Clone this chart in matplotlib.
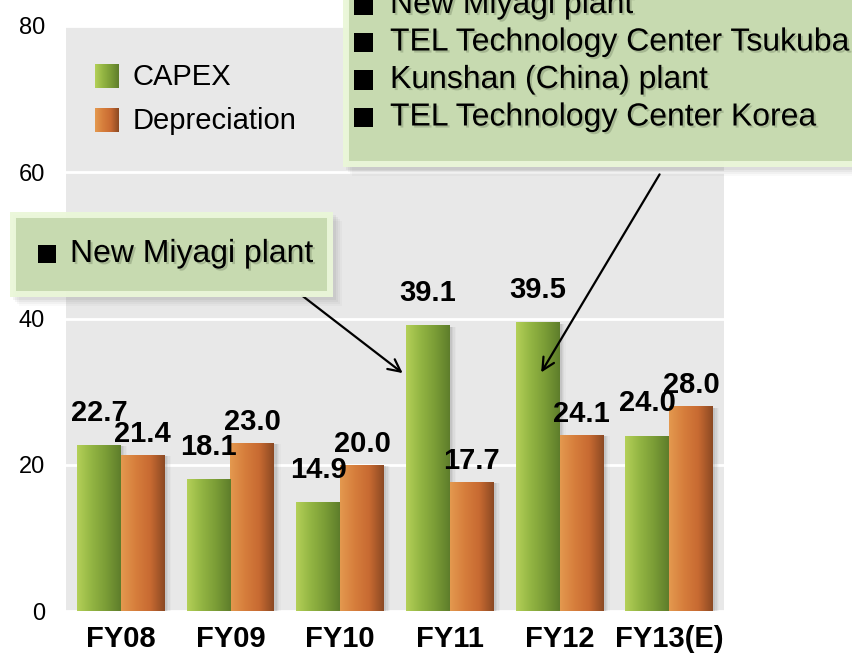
import numpy as np
import matplotlib
matplotlib.use("Agg")
import matplotlib.pyplot as plt
import matplotlib.patheffects as pe
from matplotlib.colors import LinearSegmentedColormap
from matplotlib.patches import Rectangle

plt.rcParams['font.family'] = ['Liberation Sans', 'DejaVu Sans']

# Data (billion yen)
years = ["FY08", "FY09", "FY10", "FY11", "FY12", "FY13(E)"]
capex = [22.7, 18.1, 14.9, 39.1, 39.5, 24.0]
depreciation = [21.4, 23.0, 20.0, 17.7, 24.1, 28.0]
series_names = ["CAPEX", "Depreciation"]
callout_small = ["New Miyagi plant"]
callout_large = ["New Miyagi plant", "TEL Technology Center Tsukuba",
                 "Kunshan (China) plant", "TEL Technology Center Korea"]

green_cmap = LinearSegmentedColormap.from_list(
    "g", ["#b4d058", "#93b543", "#7a9c36", "#5e7d2b"])
orange_cmap = LinearSegmentedColormap.from_list(
    "o", ["#e4994f", "#d67e3c", "#c86a32", "#8b4923"])

W, H = 852, 653
fig = plt.figure(figsize=(W / 100, H / 100), dpi=100)
ax = fig.add_axes([66 / W, 1 - 611 / H, (724 - 66) / W, (611 - 26) / H])
ax.set_facecolor("#e8e8e8")
ax.set_xlim(-0.5, len(years) - 0.5)
ax.set_ylim(0, 80)
ax.set_yticks([0, 20, 40, 60, 80])
ax.tick_params(axis="y", length=0, labelsize=17, pad=15)
ax.tick_params(axis="x", length=0, labelsize=21, pad=10)
ax.set_xticks(range(len(years)))
ax.set_xticklabels(years, fontweight="bold")
for s in ax.spines.values():
    s.set_visible(False)
ax.yaxis.grid(True, color="white", linewidth=2)
ax.set_axisbelow(True)

x = np.arange(len(years))
bw = 0.4
grad = np.linspace(0, 1, 256).reshape(1, -1)


def gradient_bars(bars, cmap):
    for b in bars:
        x0, y0 = b.get_x(), b.get_y()
        w, h = b.get_width(), b.get_height()
        # soft drop shadow on the right
        for i, a in enumerate([0.10, 0.07, 0.05, 0.03]):
            ax.add_patch(Rectangle((x0 + 0.02 + i * 0.012, y0), w, h - 0.2,
                                   facecolor="#555555", alpha=a,
                                   edgecolor="none", zorder=2))
        im = ax.imshow(grad, cmap=cmap, aspect="auto",
                       extent=(x0, x0 + w, y0, y0 + h), zorder=3)
        im.set_clip_path(b)
        b.set_facecolor("none")


b1 = ax.bar(x - bw / 2, capex, bw, color="none", zorder=3)
b2 = ax.bar(x + bw / 2, depreciation, bw, color="none", zorder=3)
gradient_bars(b2, orange_cmap)
gradient_bars(b1, green_cmap)
ax.set_xlim(-0.5, len(years) - 0.5)
ax.set_ylim(0, 80)

for xi, v in zip(x, capex):
    ax.annotate(f"{v:.1f}", (xi - bw / 2, v), xytext=(0, 13),
                textcoords="offset points", ha="center", va="bottom",
                fontsize=21, fontweight="bold", zorder=6)
for xi, v in zip(x, depreciation):
    ax.annotate(f"{v:.1f}", (xi + bw / 2, v), xytext=(0, 5),
                textcoords="offset points", ha="center", va="bottom",
                fontsize=21, fontweight="bold", zorder=6)


def fx(px):
    return px / W


def fy(py):
    return 1 - py / H


# Legend with gradient swatches
for i, (name, cmap) in enumerate(zip(series_names, [green_cmap, orange_cmap])):
    top = 64 + i * 44
    sax = fig.add_axes([fx(95), fy(top + 24), fx(24), 24 / H])
    sax.imshow(grad, cmap=cmap, aspect="auto")
    sax.axis("off")
    fig.text(fx(133), fy(top + 13), name, fontsize=21, va="center", ha="left")

text_shadow = [pe.SimplePatchShadow(offset=(1.5, -1.5), shadow_rgbFace="#6b7a5c",
                                    alpha=0.35), pe.Normal()]


def callout(x0, y0, x1, y1, lines, line_h, first_y, bullet_x, text_x, sq):
    # shadow
    for i, a in enumerate([0.06, 0.05, 0.04, 0.03]):
        fig.patches.append(Rectangle((fx(x0 + 3 + i * 2), fy(y1 + 3 + i * 2)),
                                     fx(x1 - x0), (y1 - y0) / H,
                                     transform=fig.transFigure,
                                     facecolor="#404040", alpha=a,
                                     edgecolor="none", zorder=7))
    fig.patches.append(Rectangle((fx(x0), fy(y1)), fx(x1 - x0), (y1 - y0) / H,
                                 transform=fig.transFigure,
                                 facecolor="#eaf7d8", alpha=0.95,
                                 edgecolor="none", zorder=8))
    fig.patches.append(Rectangle((fx(x0 + 6), fy(y1 - 6)), fx(x1 - x0 - 12),
                                 (y1 - y0 - 12) / H,
                                 transform=fig.transFigure,
                                 facecolor="#c6d9ae", alpha=0.95,
                                 edgecolor="none", zorder=9))
    for k, t in enumerate(lines):
        yy = first_y + k * line_h
        fig.patches.append(Rectangle((fx(bullet_x), fy(yy + sq / 2)),
                                     fx(sq), sq / H,
                                     transform=fig.transFigure,
                                     facecolor="black", edgecolor="none",
                                     zorder=10))
        fig.text(fx(text_x), fy(yy), t, fontsize=23,
                 va="center", ha="left", zorder=10, path_effects=text_shadow)


callout(10, 212, 333, 297, callout_small, 0, 254, 38, 70, 18)
callout(343, -40, 866, 167, callout_large, 37.5, 5, 354, 390, 19)

# Arrows pointing at the FY11 and FY12 CAPEX bars
ax.annotate("", xy=(2.59, 32.3), xycoords="data",
            xytext=(fx(300), fy(294)), textcoords="figure fraction",
            arrowprops=dict(arrowstyle="->", color="black", lw=1.6,
                            mutation_scale=22), zorder=11)
ax.annotate("", xy=(3.82, 32.3), xycoords="data",
            xytext=(fx(661), fy(172)), textcoords="figure fraction",
            arrowprops=dict(arrowstyle="->", color="black", lw=1.6,
                            mutation_scale=22), zorder=11)

fig.savefig("out.png", dpi=100)
